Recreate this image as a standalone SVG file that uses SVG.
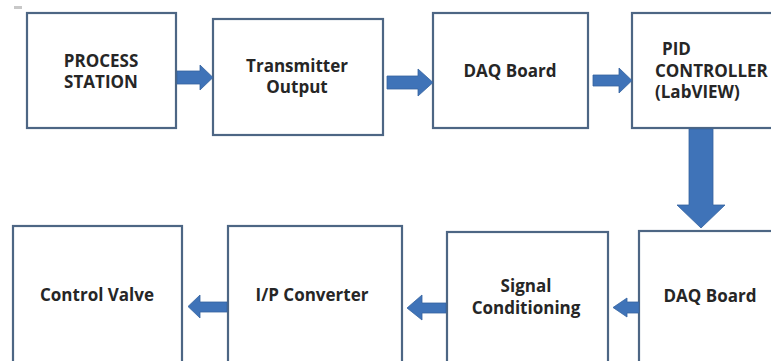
<svg xmlns="http://www.w3.org/2000/svg" width="771" height="361" viewBox="0 0 771 361">
<style>
.box{fill:#ffffff;stroke:#4d6684;stroke-width:2.2}
.t{font-family:"Open Sans","Liberation Sans",sans-serif;font-weight:bold;font-size:17px;fill:#262626;text-anchor:middle}
.tl{text-anchor:start}
.arr{fill:#3f73b8;stroke:#3563a0;stroke-width:0.8}
</style>
<rect width="771" height="361" fill="#ffffff"/>
<rect x="14" y="6" width="8" height="3" fill="#c8c8c8"/>
<g id="process-station"><rect class="box" x="27" y="13" width="149" height="115"/><text class="t" x="101" y="67">PROCESS</text><text class="t" x="101" y="88">STATION</text></g>
<g id="transmitter-output"><rect class="box" x="213" y="19" width="170" height="116"/><text class="t" x="297" y="72">Transmitter</text><text class="t" x="297" y="93">Output</text></g>
<g id="daq-board-1"><rect class="box" x="433" y="13" width="155" height="115"/><text class="t" x="510" y="77">DAQ Board</text></g>
<g id="pid-controller"><rect class="box" x="632" y="13" width="150" height="115"/><text class="t tl" x="662" y="55">PID</text><text class="t tl" x="655" y="77">CONTROLLER</text><text class="t tl" x="655" y="98">(LabVIEW)</text></g>
<g id="daq-board-2"><rect class="box" x="639" y="231" width="150" height="150"/><text class="t" x="710" y="302">DAQ Board</text></g>
<g id="signal-conditioning"><rect class="box" x="447" y="232" width="161" height="150"/><text class="t" x="526" y="292">Signal</text><text class="t" x="526" y="314">Conditioning</text></g>
<g id="ip-converter"><rect class="box" x="228" y="226" width="174" height="150"/><text class="t" x="312" y="301">I/P Converter</text></g>
<g id="control-valve"><rect class="box" x="13" y="226" width="169" height="150"/><text class="t" x="97" y="301">Control Valve</text></g>
<g id="connectors">
<polygon class="arr" points="177,71 200,71 200,65 213,77.5 200,90 200,84 177,84"/>
<polygon class="arr" points="387,76 418,76 418,69 433,82.5 418,96 418,89 387,89"/>
<polygon class="arr" points="593,75 619,75 619,68 632,80.5 619,93 619,86 593,86"/>
<polygon class="arr" points="689,129 713,129 713,205 725,205 701,228 677,205 689,205"/>
<polygon class="arr" points="639,302 627,302 627,298 613,307.5 627,317 627,313 639,313"/>
<polygon class="arr" points="446,303 422,303 422,295 407,308 422,320 422,313 446,313"/>
<polygon class="arr" points="227,302 200,302 200,295 188,306.5 200,318 200,312 227,312"/>
</g>
</svg>
